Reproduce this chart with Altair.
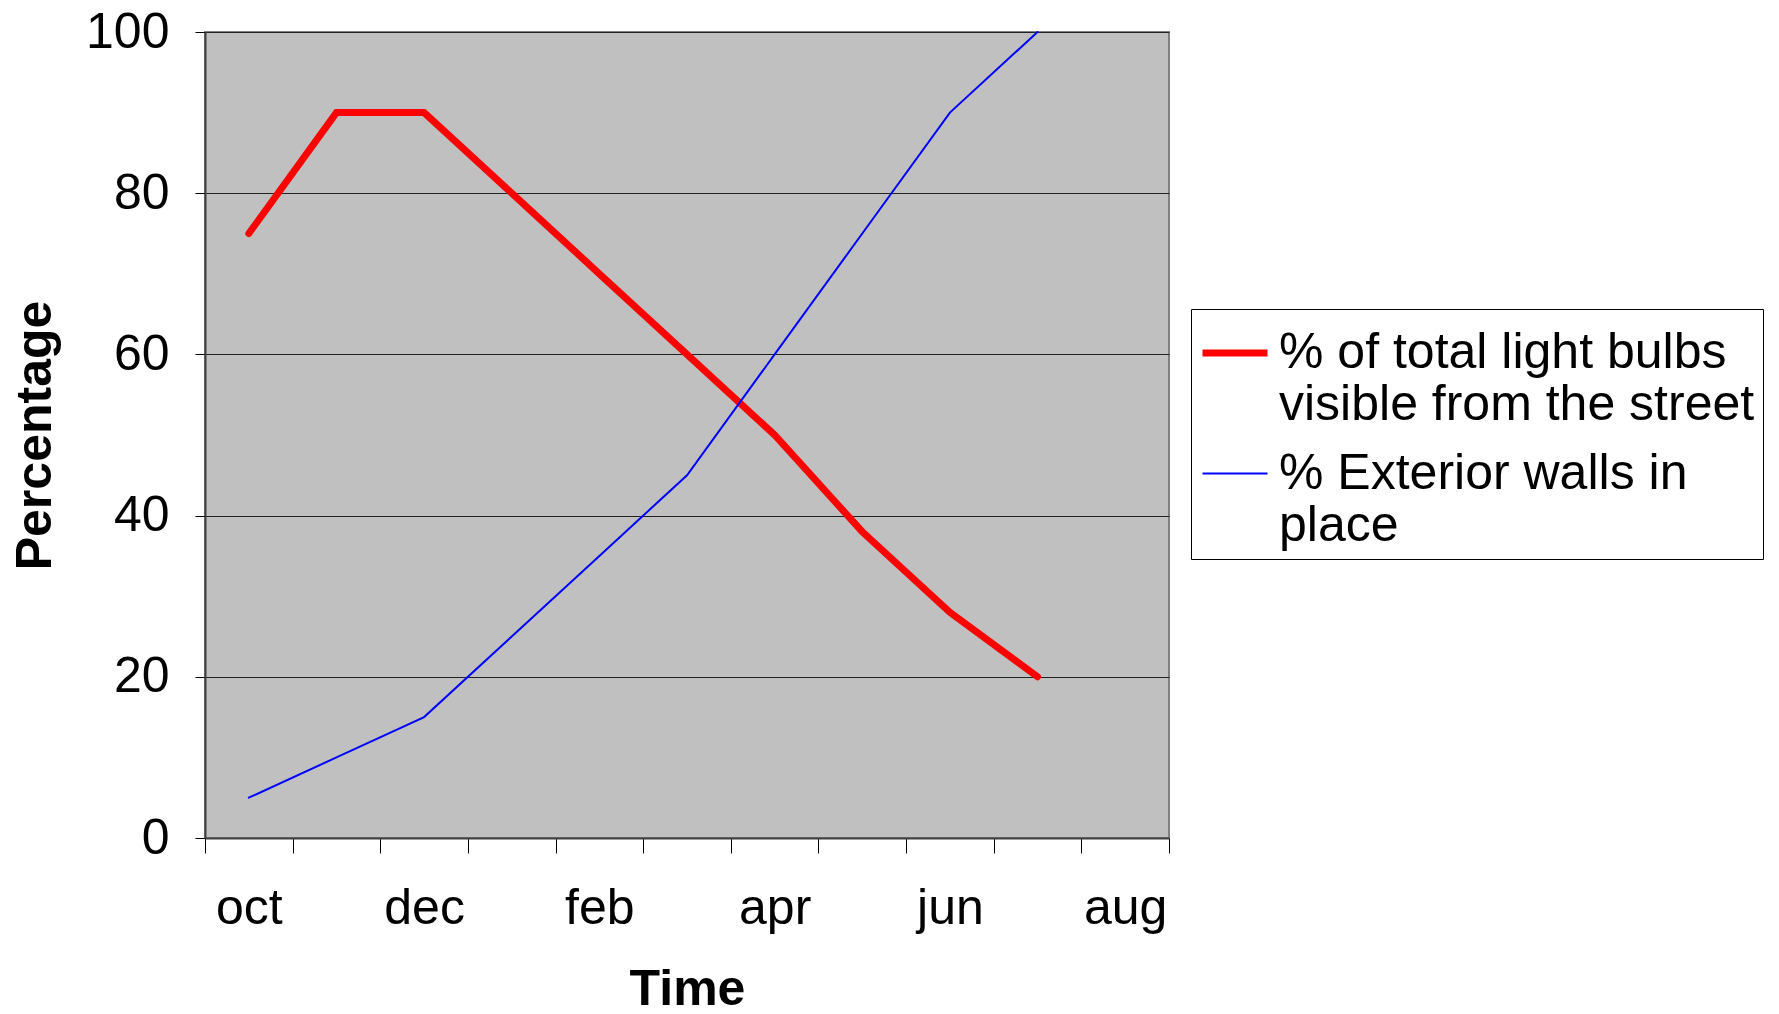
import altair as alt
import pandas as pd

months = ["oct", "nov", "dec", "jan", "feb", "mar", "apr", "may", "jun", "jul", "aug"]
shown_labels = ["oct", "dec", "feb", "apr", "jun", "aug"]
bulbs = [75, 90, 90, 80, 70, 60, 50, 38, 28, 20, None]
walls = [5, 10, 15, 25, 35, 45, 60, 75, 90, 100, None]
series_names = ["% of total light bulbs|visible from the street", "% Exterior walls in|place"]
series_colors = ["#FF0000", "#0000FF"]
series_widths = [7, 2]

rows = []
for name, vals in zip(series_names, [bulbs, walls]):
    for m, v in zip(months, vals):
        if v is not None:
            rows.append({"month": m, "value": v, "series": name})
df = pd.DataFrame(rows)

FONT = "Liberation Sans"
FS = 50

legend = alt.Legend(
    title=None, orient="none", legendX=986, legendY=277,
    strokeColor="black", fillColor="white", padding=8,
    labelFont=FONT, labelFontSize=FS, labelLimit=0, labelColor="black",
    labelExpr="split(datum.label, '|')", labelBaseline="middle",
    symbolType="stroke", symbolSize=4225, labelOffset=8, rowPadding=10,
)

chart = alt.Chart(df).mark_line(strokeCap="round", strokeJoin="miter").encode(
    x=alt.X("month:N", title="Time",
            scale=alt.Scale(type="band", domain=months, paddingInner=0, paddingOuter=0),
            axis=alt.Axis(labelAngle=0, tickBand="extent", tickSize=15, tickColor="black",
                          domainColor="#404040", domainWidth=2,
                          labelExpr="indexof(" + str(shown_labels) + ", datum.value) >= 0 ? datum.value : ''",
                          labelFont=FONT, labelFontSize=FS, labelColor="black", labelPadding=30,
                          titleFont=FONT, titleFontSize=FS, titleFontWeight="bold", titleColor="black",
                          titlePadding=31)),
    y=alt.Y("value:Q", title="Percentage",
            scale=alt.Scale(domain=[0, 100], nice=False),
            axis=alt.Axis(values=[0, 20, 40, 60, 80, 100], grid=True, gridColor="#222222", gridWidth=1.2,
                          tickSize=10, tickColor="black", domainColor="#404040", domainWidth=2,
                          labelFont=FONT, labelFontSize=FS, labelColor="black", labelPadding=26,
                          titleFont=FONT, titleFontSize=FS, titleFontWeight="bold", titleColor="black",
                          titlePadding=25)),
    color=alt.Color("series:N", scale=alt.Scale(domain=series_names, range=series_colors), legend=legend),
    strokeWidth=alt.StrokeWidth("series:N", scale=alt.Scale(domain=series_names, range=series_widths), legend=legend),
).properties(
    width=964, height=806,
    autosize=alt.AutoSizeParams(type="none"),
    padding={"left": 197, "top": 24, "right": 602, "bottom": 168},
    background="white",
).configure_view(fill="#C0C0C0", stroke="#808080", strokeWidth=2)

chart.save("out.html", embed_options={"renderer": "svg", "actions": False})
